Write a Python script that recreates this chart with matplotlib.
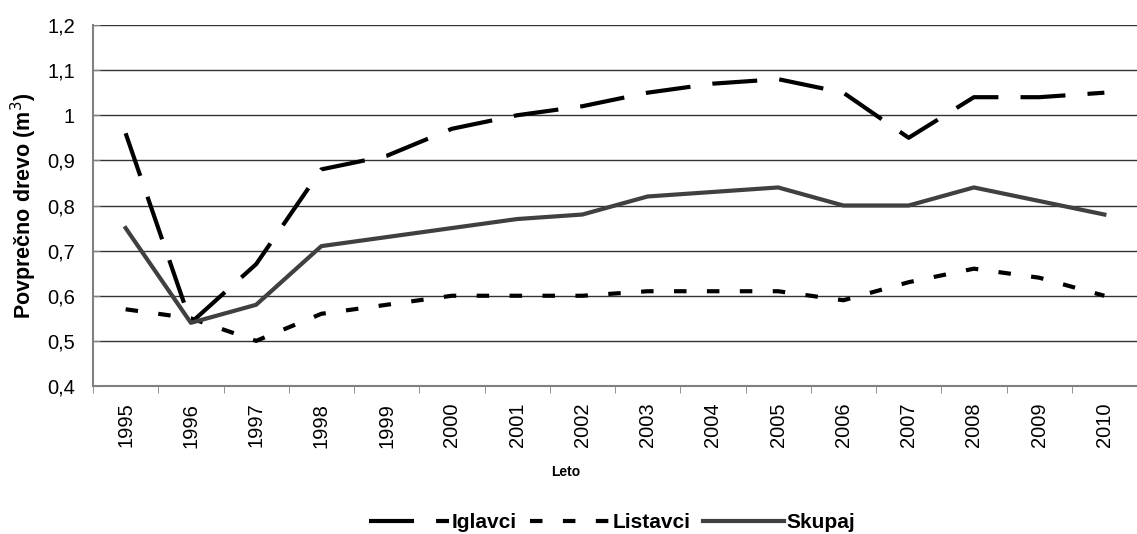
import matplotlib.pyplot as plt

plt.rcParams['font.family'] = ['Liberation Sans', 'DejaVu Sans']

# --- data ---
leta = [str(y) for y in range(1995, 2011)]
iglavci = [0.96, 0.54, 0.67, 0.88, 0.91, 0.97, 1.00, 1.02, 1.05, 1.07, 1.08, 1.05, 0.95, 1.04, 1.04, 1.05]
listavci = [0.57, 0.55, 0.50, 0.56, 0.58, 0.60, 0.60, 0.60, 0.61, 0.61, 0.61, 0.59, 0.63, 0.66, 0.64, 0.60]
skupaj = [0.75, 0.54, 0.58, 0.71, 0.73, 0.75, 0.77, 0.78, 0.82, 0.83, 0.84, 0.80, 0.80, 0.84, 0.81, 0.78]
y_ticks = [0.4, 0.5, 0.6, 0.7, 0.8, 0.9, 1.0, 1.1, 1.2]

fig = plt.figure(figsize=(11.37, 5.34), dpi=100)
ax = fig.add_axes([93 / 1137, 1 - 386 / 534, (1137 - 93) / 1137, (386 - 25) / 534])

x = list(range(len(leta)))
lw = 3.0
ax.plot(x, iglavci, color='black', lw=lw, dashes=(10.8, 5.3), label='Iglavci', zorder=3)
ax.plot(x, listavci, color='black', lw=lw, dashes=(3.0, 4.9), label='Listavci', zorder=3)
ax.plot(x, skupaj, color='#404040', lw=lw, label='Skupaj', zorder=3)

ax.set_ylim(0.4, 1.2)
ax.set_xlim(-0.5, 15.32)
ax.set_yticks(y_ticks)
ax.set_yticklabels([f'{v:g}'.replace('.', ',') for v in y_ticks], fontsize=14.5)
ax.yaxis.grid(True, color='#333333', lw=1.0)
ax.set_axisbelow(True)

ax.set_xticks(x)
ax.set_xticklabels(leta, rotation=90, fontsize=14.5)
ax.set_xticks([i - 0.5 for i in range(len(leta) + 1)], minor=True)
ax.tick_params(axis='x', which='major', length=0, pad=12)
ax.tick_params(axis='x', which='minor', length=5, color='#808080', direction='out')
ax.tick_params(axis='y', length=5, color='#808080', direction='in', pad=13)

for s in ['top', 'right']:
    ax.spines[s].set_visible(False)
for s in ['left', 'bottom']:
    ax.spines[s].set_color('#808080')
    ax.spines[s].set_linewidth(1.5)

ax.set_ylabel('Povprečno drevo (m$^3$)', fontsize=15.5, fontweight='bold', va='center')
ax.yaxis.set_label_coords((24 - 93) / 1044, 0.50)
fig.text(566 / 1137, 1 - 472 / 534, 'Leto', fontsize=10, fontweight='bold', ha='center', va='center')

fig.legend(loc='center', bbox_to_anchor=(612 / 1137, 1 - 523 / 534), ncol=3, frameon=False,
           prop={'weight': 'bold', 'size': 15}, handlelength=3.85, handletextpad=0.15, columnspacing=0.6)

fig.savefig('out.png', dpi=100)
